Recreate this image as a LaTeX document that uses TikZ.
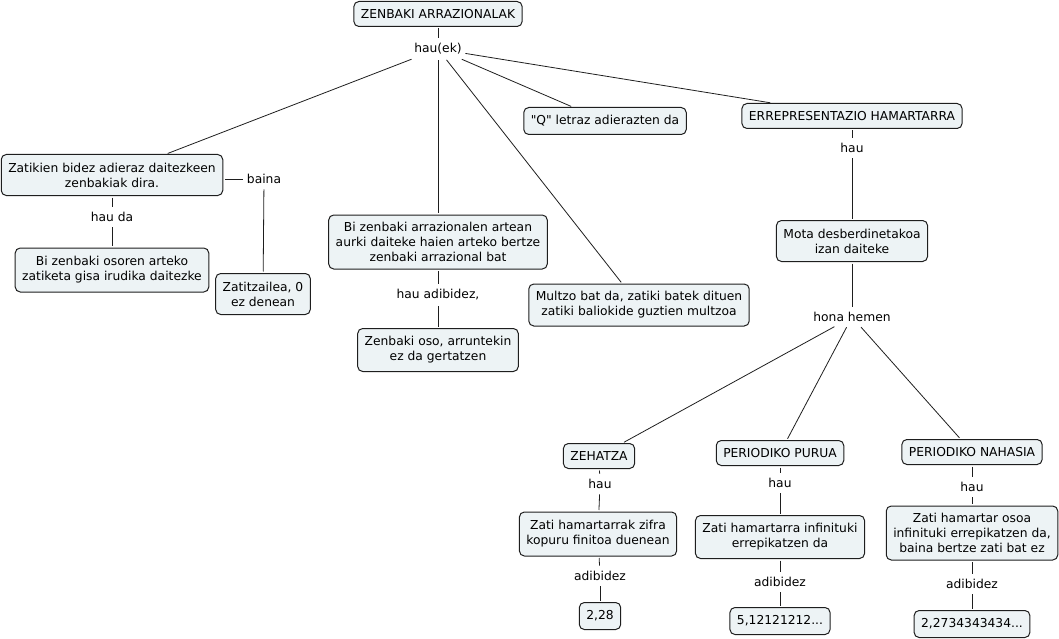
\documentclass[tikz,border=0pt]{standalone}
\usepackage{fontspec}
\setmainfont{DejaVu Sans}[Ligatures=TeXOff]
\usetikzlibrary{positioning}
\definecolor{cmapfill}{HTML}{EDF3F5}
\definecolor{cmapline}{HTML}{1E1E1E}

\begin{document}
\begin{tikzpicture}[x=1pt,y=-1pt,
  font=\fontsize{12.3}{15}\selectfont,
  concept/.style={draw=cmapline,line width=1pt,fill=cmapfill,
    rounded corners=5pt,align=center,inner xsep=7pt,inner ysep=3pt,
    minimum height=25pt},
  twoline/.style={concept,minimum height=41pt},
  threeline/.style={concept,minimum height=54pt},
  linking/.style={inner xsep=2pt,inner ysep=4pt,align=center},
  link/.style={draw=cmapline,line width=0.8pt,shorten <=1.5pt,shorten >=1.5pt}]
\useasboundingbox (0,0) rectangle (1059,639);

% concepts
\node[concept] (title) at (438,14) {ZENBAKI ARRAZIONALAK};
\node[twoline] (frac) at (112,175) {Zatikien bidez adieraz daitezkeen\\zenbakiak dira.};
\node[twoline,minimum height=44pt] (quot) at (112,270) {Bi zenbaki osoren arteko\\zatiketa gisa irudika daitezke};
\node[twoline] (denom) at (263,294) {Zatitzailea, 0\\ez denean};
\node[threeline] (dense) at (438,242) {Bi zenbaki arrazionalen artean\\aurki daiteke haien arteko bertze\\zenbaki arrazional bat};
\node[twoline,minimum height=43pt] (integ) at (438,350) {Zenbaki oso, arruntekin\\ez da gertatzen};
\node[concept,minimum height=27pt] (qlet) at (605,121) {"Q" letraz adierazten da};
\node[twoline,minimum height=42pt] (equiv) at (639,305) {Multzo bat da, zatiki batek dituen\\zatiki baliokide guztien multzoa};
\node[concept] (decim) at (852,116) {ERREPRESENTAZIO HAMARTARRA};
\node[twoline] (kinds) at (852,241) {Mota desberdinetakoa\\izan daiteke};
\node[concept] (exact) at (599,456) {ZEHATZA};
\node[concept] (pure) at (780,453) {PERIODIKO PURUA};
\node[concept] (mixed) at (972,452) {PERIODIKO NAHASIA};
\node[twoline,minimum height=44pt] (exdef) at (598,534) {Zati hamartarrak zifra\\kopuru finitoa duenean};
\node[twoline,minimum height=43pt] (puredef) at (780,537) {Zati hamartarra infinituki\\errepikatzen da};
\node[threeline] (mixdef) at (972,533) {Zati hamartar osoa\\infinituki errepikatzen da,\\baina bertze zati bat ez};
\node[concept,minimum height=27pt] (exnum) at (600,616) {2,28};
\node[concept,minimum height=27pt] (purenum) at (780,621) {5,12121212...};
\node[concept,minimum height=27pt] (mixnum) at (972,624) {2,2734343434...};

% linking phrases
\node[linking] (hauek) at (438,49) {hau(ek)};
\node[linking] (baina) at (264,179) {baina};
\node[linking] (hauda) at (112,217) {hau da};
\node[linking] (hauadib) at (438,295) {hau adibidez,};
\node[linking] (hau_dec) at (852,148) {hau};
\node[linking] (hona) at (852,317) {hona hemen};
\node[linking] (hau_ex) at (600,484) {hau};
\node[linking] (hau_pure) at (780,483) {hau};
\node[linking] (hau_mix) at (972,487) {hau};
\node[linking] (adib_ex) at (600,576) {adibidez};
\node[linking] (adib_pure) at (780,582) {adibidez};
\node[linking] (adib_mix) at (972,584) {adibidez};

% connectors
\draw[link] (title)--(hauek);
\draw[link] (hauek)--(frac);
\draw[link] (hauek)--(dense);
\draw[link] (hauek)--(qlet);
\draw[link] (hauek)--(decim);
\draw[link] (hauek)--(equiv);
\draw[link] (frac)--(hauda);
\draw[link] (hauda)--(quot);
\draw[link] (frac.east|-baina)--(baina.west);
\draw[link] (baina)--(denom);
\draw[link] (dense)--(hauadib);
\draw[link] (hauadib)--(integ);
\draw[link] (decim)--(hau_dec);
\draw[link] (hau_dec)--(kinds);
\draw[link] (kinds)--(hona);
\draw[link] (hona)--(exact);
\draw[link] (hona)--(pure);
\draw[link] (hona)--(mixed);
\draw[link] (exact)--(hau_ex);
\draw[link] (hau_ex)--(exdef);
\draw[link] (exdef)--(adib_ex);
\draw[link] (adib_ex)--(exnum);
\draw[link] (pure)--(hau_pure);
\draw[link] (hau_pure)--(puredef);
\draw[link] (puredef)--(adib_pure);
\draw[link] (adib_pure)--(purenum);
\draw[link] (mixed)--(hau_mix);
\draw[link] (hau_mix)--(mixdef);
\draw[link] (mixdef)--(adib_mix);
\draw[link] (adib_mix)--(mixnum);
\end{tikzpicture}
\end{document}
